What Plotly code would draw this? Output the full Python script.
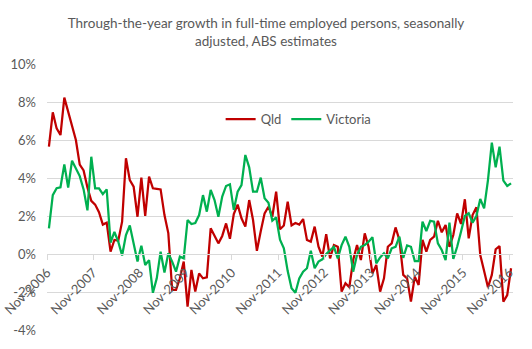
import plotly.graph_objects as go

title_text = "Through-the-year growth in full-time employed persons, seasonally<br>adjusted, ABS estimates"

tick_labels = ["Nov-2006", "Nov-2007", "Nov-2008", "Nov-2009", "Nov-2010", "Nov-2011",
               "Nov-2012", "Nov-2013", "Nov-2014", "Nov-2015", "Nov-2016"]

qld = [5.65, 7.46, 6.61, 6.26, 8.23, 7.49, 6.88, 6.0, 4.7, 4.4,
       3.5, 2.8, 2.6, 2.2, 1.55, 1.65, 0.12, 0.74, 0.7, 1.7,
       5.04, 3.89, 3.54, 1.96, 4.02, 2.0, 4.07, 3.46, 3.43, 3.4,
       2.05, 1.1, -1.89, -1.89, -1.28, -0.4, -2.77, -0.84, -1.98, -1.02,
       -1.28, -1.23, 1.35, 0.91, 0.56, 0.95, 1.61, 0.8, 2.1, 2.6,
       1.88, 1.44, 2.84, 1.79, 0.17, 1.2, 2.14, 2.49, 1.96, 3.28,
       1.3, 1.5, 2.75, 1.5, 1.63, 1.55, 1.84, 0.74, 0.65, 1.44,
       0.38, -0.14, 1.04, -0.23, 0.47, 0.38, -1.98, -1.54, -1.75, -0.32,
       0.47, -0.32, 1.09, 0.38, -1.02, -0.58, -1.98, -1.28, 0.38, 0.56,
       1.4, 0.74, -1.1, -1.28, -2.51, -1.19, -1.63, 0.74, 0.12, 0.74,
       0.91, 1.75, 1.14, 1.53, 0.38, 1.0, 2.14, 1.58, 2.88, 0.82,
       2.05, 2.46, -0.05, -0.9, -1.75, -1.1, 0.25, 0.42, -2.51, -2.16, -0.75]

victoria = [1.35, 3.1, 3.46, 3.51, 4.72, 3.49, 4.91, 4.46, 4.1, 3.4,
            2.3, 5.12, 3.46, 3.46, 3.15, 3.4, 0.6, 1.16, 0.65, -0.08,
            1.0, 1.5, 0.5, -0.4, 0.44, -0.58, -0.32, -2.04, -1.28, 0.12,
            -0.98, 0.04, -0.4, -0.93, -0.14, -0.23, 1.79, 1.58, 1.63, 2.05,
            3.1, 2.23, 3.37, 2.84, 1.96, 3.02, 3.58, 3.67, 2.32, 3.28,
            3.63, 5.21, 4.56, 3.28, 3.28, 4.02, 2.93, 2.7, 1.75, 1.93,
            0.75, 0.3, -0.9, -1.8, -2.04, -1.28, -0.93, -0.75, 0.17, -0.75,
            -0.4, -0.28, 0.0, 0.21, 0.38, -0.23, 0.47, 0.91, 0.38, -0.93,
            -0.05, 0.38, 0.47, 0.65, 0.88, -0.49, -0.18, 0.04, -0.23, 0.3,
            0.38, 0.91, -0.2, 0.45, 0.38, -0.37, -0.37, 1.7, 1.21, 1.75,
            1.7, 0.56, 0.21, -0.32, 1.65, -0.26, 0.38, 1.17, 2.0, 2.14,
            1.65, 2.0, 2.9, 2.4, 3.89, 5.86, 4.56, 5.65, 3.86, 3.58, 3.72]

y_ticks = [-4, -2, 0, 2, 4, 6, 8, 10]

x = list(range(len(qld)))
tick_pos = [12 * k - 0.5 for k in range(len(tick_labels))]

FONT = "Lato, Carlito, Calibri, sans-serif"
GREY = "#595959"
GRID = "#d9d9d9"

fig = go.Figure()
fig.add_trace(go.Scatter(x=x, y=qld, mode="lines", name="Qld",
                         line=dict(color="#C00000", width=2.25)))
fig.add_trace(go.Scatter(x=x, y=victoria, mode="lines", name="Victoria",
                         line=dict(color="#00B050", width=2.25)))

ymin, ymax = -4, 10
fig.update_layout(
    width=532, height=349,
    margin=dict(l=47, r=19, t=64, b=19, autoexpand=False),
    paper_bgcolor="white", plot_bgcolor="white",
    font=dict(family=FONT, color=GREY, size=13),
    title=dict(text=title_text, x=0.5, xanchor="center", yref="container",
               y=1 - 28 / 349, yanchor="middle",
               font=dict(family=FONT, size=13.5, color=GREY)),
    showlegend=True,
    legend=dict(orientation="h", x=0.54, xanchor="center", y=0.793, yanchor="middle",
                font=dict(family=FONT, size=13, color=GREY), bgcolor="rgba(0,0,0,0)",
                itemwidth=30, tracegroupgap=0),
    xaxis=dict(range=[-0.5, len(qld) - 0.5], tickmode="array", tickvals=tick_pos,
               ticktext=tick_labels, tickangle=-45, showgrid=False, zeroline=False,
               showline=True, linecolor=GRID, linewidth=1, ticks="outside", ticklen=5,
               tickcolor=GRID, anchor="free", position=(0 - ymin) / (ymax - ymin),
               automargin=False,
               tickfont=dict(family=FONT, size=13, color=GREY)),
    yaxis=dict(range=[ymin, ymax], tickmode="array", tickvals=y_ticks,
               ticktext=[f"{v}%" for v in y_ticks], showgrid=True, gridcolor=GRID,
               gridwidth=1, zeroline=False, showline=False, ticks="",
               ticklabelstandoff=10, automargin=False,
               tickfont=dict(family=FONT, size=13, color=GREY)),
)

fig.write_html("out.html")
